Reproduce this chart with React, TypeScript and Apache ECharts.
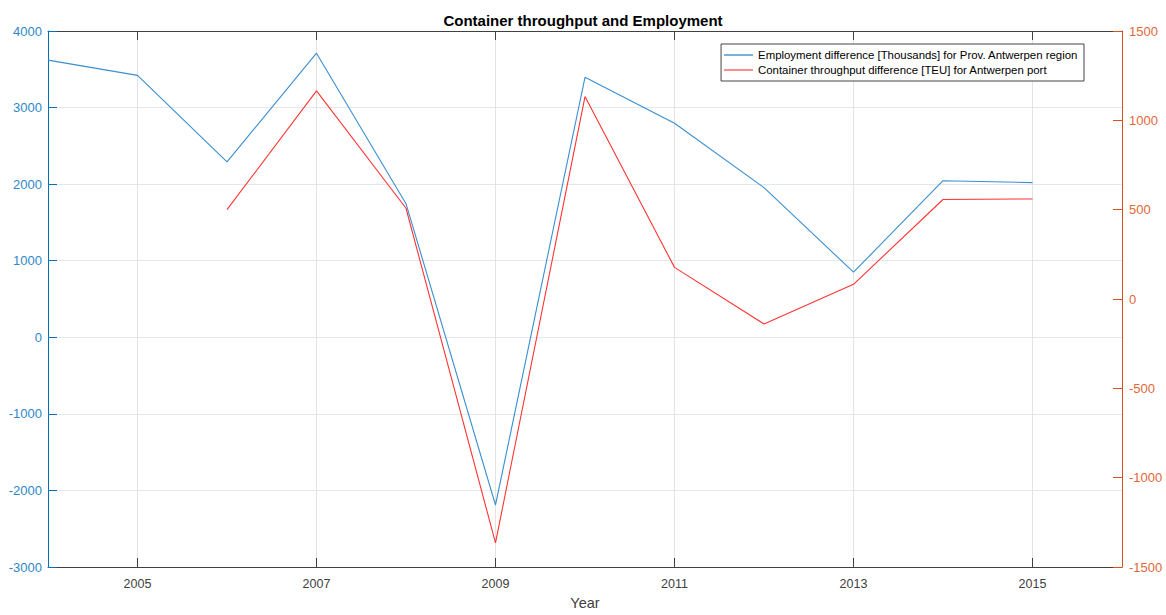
import React, { useEffect, useRef } from "react";
import * as echarts from "echarts";

const years = ["2004", "2005", "2006", "2007", "2008", "2009", "2010", "2011", "2012", "2013", "2014", "2015", "2016"];
const employment = [3620, 3420, 2290, 3710, 1745, -2190, 3395, 2795, 1955, 850, 2045, 2020, null];
const container = [null, null, 500, 1165, 508, -1365, 1133, 177, -140, 82, 557, 560, null];
const leftTicks = { min: -3000, max: 4000, interval: 1000 };
const rightTicks = { min: -1500, max: 1500, interval: 500 };

const FONT = "'Liberation Sans', Arial, Helvetica, sans-serif";
const BLUE_AXIS = "#0072BD";
const BLUE_TXT = "#2f88c8";
const ORANGE_AXIS = "#D95319";
const ORANGE_TXT = "#e2683a";

const oddYear = (_i: number, v: string) => Number(v) % 2 === 1;
const plain = (v: number) => String(v);

export default function App() {
  const ref = useRef<HTMLDivElement>(null);
  useEffect(() => {
    if (!ref.current) return;
    const chart = echarts.init(ref.current, undefined, { renderer: "svg" });
    chart.setOption({
      animation: false,
      backgroundColor: "#ffffff",
      title: {
        text: "Container throughput and Employment",
        left: "center",
        top: 8,
        textStyle: { fontFamily: FONT, fontSize: 15, fontWeight: "bold", color: "#000" },
      },
      grid: { left: 48, right: 44, top: 31, bottom: 43, containLabel: false },
      legend: {
        orient: "vertical",
        right: 82,
        top: 44,
        padding: [4, 6, 4, 3],
        icon: "rect",
        itemWidth: 29,
        itemHeight: 1.2,
        itemGap: 1,
        backgroundColor: "#ffffff",
        borderColor: "#444",
        borderWidth: 1,
        textStyle: { fontFamily: FONT, fontSize: 11.4, lineHeight: 14, color: "#000" },
        data: [
          "Employment difference [Thousands] for Prov. Antwerpen region",
          "Container throughput difference [TEU] for Antwerpen port",
        ],
      },
      xAxis: [
        {
          type: "category",
          data: years,
          boundaryGap: false,
          position: "bottom",
          name: "Year",
          nameLocation: "middle",
          nameGap: 28,
          nameTextStyle: { fontFamily: FONT, fontSize: 14.5, color: "#404040" },
          axisLine: { show: true, onZero: false, lineStyle: { color: "#404040", width: 1 } },
          axisTick: { show: true, inside: true, length: 9, interval: oddYear, lineStyle: { color: "#404040" } },
          axisLabel: { interval: oddYear, fontFamily: FONT, fontSize: 12.5, color: "#404040", margin: 10 },
          splitLine: { show: true, interval: oddYear, lineStyle: { color: "#e3e3e3", width: 1 } },
        },
        {
          type: "category",
          data: years,
          boundaryGap: false,
          position: "top",
          axisLine: { show: true, onZero: false, lineStyle: { color: "#404040", width: 1 } },
          axisTick: { show: true, inside: true, length: 9, interval: oddYear, lineStyle: { color: "#404040" } },
          axisLabel: { show: false },
          splitLine: { show: false },
        },
      ],
      yAxis: [
        {
          type: "value",
          position: "left",
          min: leftTicks.min,
          max: leftTicks.max,
          interval: leftTicks.interval,
          axisLine: { show: true, lineStyle: { color: BLUE_AXIS, width: 1 } },
          axisTick: { show: true, inside: true, length: 9, lineStyle: { color: BLUE_AXIS } },
          axisLabel: { formatter: plain, fontFamily: FONT, fontSize: 13, color: BLUE_TXT, margin: 6 },
          splitLine: { show: true, lineStyle: { color: "#e3e8ee", width: 1 } },
        },
        {
          type: "value",
          position: "right",
          min: rightTicks.min,
          max: rightTicks.max,
          interval: rightTicks.interval,
          axisLine: { show: true, lineStyle: { color: ORANGE_AXIS, width: 1 } },
          axisTick: { show: true, inside: true, length: 9, lineStyle: { color: ORANGE_AXIS } },
          axisLabel: { formatter: plain, fontFamily: FONT, fontSize: 13, color: ORANGE_TXT, margin: 7 },
          splitLine: { show: false },
        },
      ],
      series: [
        {
          name: "Employment difference [Thousands] for Prov. Antwerpen region",
          type: "line",
          xAxisIndex: 0,
          yAxisIndex: 0,
          data: employment,
          symbol: "none",
          connectNulls: false,
          lineStyle: { color: "#3a8fd0", width: 1.1 },
          itemStyle: { color: "#1f7fc4" },
          z: 3,
        },
        {
          name: "Container throughput difference [TEU] for Antwerpen port",
          type: "line",
          xAxisIndex: 0,
          yAxisIndex: 1,
          data: container,
          symbol: "none",
          connectNulls: false,
          lineStyle: { color: "#ff3333", width: 1.1 },
          itemStyle: { color: "#ff4040" },
          z: 3,
        },
      ],
    });
    return () => chart.dispose();
  }, []);
  return (
    <div
      ref={ref}
      style={{ position: "fixed", left: 0, top: 0, width: 1166, height: 615, background: "#fff" }}
    />
  );
}
